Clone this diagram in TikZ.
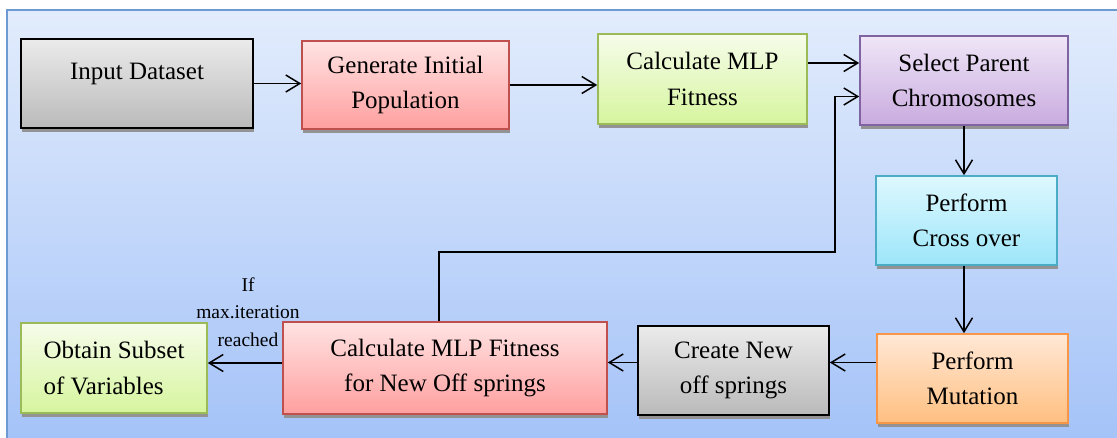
\documentclass[tikz,border=0pt]{standalone}
\usepackage{fontspec}
\setmainfont{Liberation Serif}
\usetikzlibrary{arrows.meta,shadows}

\definecolor{frameline}{HTML}{6E9AD2}
\definecolor{frametop}{HTML}{E2ECFC}
\definecolor{framebot}{HTML}{A3C2F8}
\definecolor{greytop}{HTML}{EBEBEB}
\definecolor{greybot}{HTML}{BABABA}
\definecolor{redline}{HTML}{C0504D}
\definecolor{redtop}{HTML}{FFE3E3}
\definecolor{redbot}{HTML}{FF9F9F}
\definecolor{greenline}{HTML}{9BBB59}
\definecolor{greentop}{HTML}{F6FCEA}
\definecolor{greenbot}{HTML}{D6F59E}
\definecolor{purpleline}{HTML}{8064A2}
\definecolor{purpletop}{HTML}{EFE6F7}
\definecolor{purplebot}{HTML}{C9ABDF}
\definecolor{cyanline}{HTML}{4BACC6}
\definecolor{cyantop}{HTML}{DEF8FE}
\definecolor{cyanbot}{HTML}{9CE6FA}
\definecolor{orangeline}{HTML}{F79646}
\definecolor{orangetop}{HTML}{FFE8D6}
\definecolor{orangebot}{HTML}{FFBF80}

\tikzset{
  box/.style={draw, line width=1.6pt, align=center, inner sep=4pt,
    font=\fontsize{25}{35.5}\selectfont,
    drop shadow={shadow xshift=1pt, shadow yshift=-4pt, fill=gray!85, opacity=1}},
  greybox/.style={box, draw=black, top color=greytop, bottom color=greybot},
  redbox/.style={box, draw=redline, top color=redtop, bottom color=redbot},
  greenbox/.style={box, draw=greenline, top color=greentop, bottom color=greenbot},
  purplebox/.style={box, draw=purpleline, top color=purpletop, bottom color=purplebot},
  cyanbox/.style={box, draw=cyanline, top color=cyantop, bottom color=cyanbot},
  orangebox/.style={box, draw=orangeline, top color=orangetop, bottom color=orangebot},
  arr/.style={line width=1.5pt, -{Straight Barb[length=14pt,width=17pt,line width=1.5pt]}},
  condlabel/.style={align=center, inner sep=0pt, font=\fontsize{19.5}{27.5}\selectfont}
}

\begin{document}
\begin{tikzpicture}[x=1pt, y=-1pt]
    \useasboundingbox (0,0) rectangle (1117,437);

    % Background frame
    \draw[frameline, line width=1.8pt, top color=frametop, bottom color=framebot] (7,10) rectangle (1135,450);

    % Top row
    \node[greybox, minimum width=232pt, minimum height=89pt, text height=18pt, text depth=27pt] (input) at (137,83.5) {Input Dataset};
    \node[redbox, minimum width=207pt, minimum height=88pt] (initpop) at (405.5,85) {Generate Initial\\Population};
    \node[greenbox, minimum width=209pt, minimum height=90pt] (mlpfit) at (702.5,79) {Calculate MLP\\Fitness};
    \node[purplebox, minimum width=208pt, minimum height=89pt] (parents) at (964,80.5) {Select Parent\\Chromosomes};

    % Right column
    \node[cyanbox, minimum width=181pt, minimum height=89pt] (crossover) at (966.5,220.5) {Perform\\Cross over};
    \node[orangebox, minimum width=191pt, minimum height=89pt] (mutation) at (972.5,378.5) {Perform\\Mutation};

    % Bottom row
    \node[greybox, minimum width=191pt, minimum height=89pt] (offspring) at (733.5,370.5) {Create New\\off springs};
    \node[redbox, minimum width=324pt, minimum height=92pt] (newfit) at (445,368) {Calculate MLP Fitness\\for New Off springs};
    \node[greenbox, align=left, minimum width=186pt, minimum height=90pt] (subset) at (114,368) {Obtain Subset\\of Variables};

    % Connectors
    \draw[arr] (input.east) -- (input.east -| initpop.west);
    \draw[arr] (initpop.east) -- (initpop.east -| mlpfit.west);
    \draw[arr] ([yshift=16pt]mlpfit.east) -- ([yshift=16pt]mlpfit.east -| parents.west);
    \draw[arr] (parents.south) -- (parents.south |- crossover.north);
    \draw[arr] (crossover.south -| parents.south) -- (parents.south |- mutation.north);
    \draw[arr] ([yshift=16pt]mutation.west) -- ([yshift=16pt]mutation.west -| offspring.east);
    \draw[arr] ([yshift=8pt]offspring.west) -- ([yshift=8pt]offspring.west -| newfit.east);
    \draw[arr] ([yshift=5pt]newfit.west) -- ([yshift=5pt]newfit.west -| subset.east);

    % Loop back
    \coordinate (loopturn) at (835,252);
    \draw[arr] ([xshift=-6pt]newfit.north) |- (loopturn) |- ([yshift=-16pt]parents.west);

    \node[condlabel] (stopcond) at (248,312) {If\\max.iteration\\reached};
\end{tikzpicture}
\end{document}
